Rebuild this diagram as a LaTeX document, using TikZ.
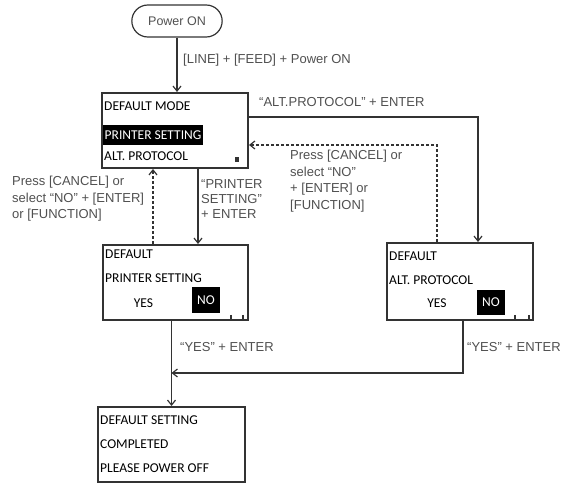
\documentclass[tikz,border=0pt]{standalone}
\usepackage{fontspec}
\setmainfont{Liberation Sans}
\newfontfamily\boxfont{Carlito}
\usetikzlibrary{arrows.meta,shapes.misc}
\definecolor{ink}{HTML}{333333}
\definecolor{lbl}{HTML}{505050}
\begin{document}
\begin{tikzpicture}[x=1pt,y=-1pt,
  scr/.style={draw=ink,line width=2pt,inner sep=0pt},
  pill/.style={draw=ink,line width=1.2pt,rounded rectangle,minimum width=97pt,minimum height=32pt,font=\fontsize{12.5}{14}\selectfont,text=lbl},
  line/.style={anchor=west,inner sep=0pt,font=\boxfont\fontsize{13.5}{15}\selectfont,text=black},
  hl/.style={line,fill=black,text=white,inner xsep=1.5pt,minimum height=20pt},
  nobox/.style={fill=black,text=white,inner sep=0pt,font=\boxfont\fontsize{13.5}{15}\selectfont},
  arr/.style={draw=ink,line width=1.3pt,-{Straight Barb[length=5pt,width=8pt,line width=1.2pt]}},
  darr/.style={arr,dash pattern=on 3pt off 2pt},
  lab/.style={anchor=west,inner sep=0pt,text=lbl,align=left,font=\fontsize{13}{16.5}\selectfont},
  tick/.style={draw=ink,line width=1.2pt}]
\useasboundingbox (0,0) rectangle (566,484);

% terminal
\node[pill] (pw) at (177,21) {Power ON};

% screens
\node[scr,minimum width=146pt,minimum height=75pt] (main) at (175,130.5) {};
\node[scr,minimum width=145pt,minimum height=75pt] (lb) at (175.5,282.5) {};
\node[scr,minimum width=146pt,minimum height=77pt] (rb) at (460,281.5) {};
\node[scr,minimum width=147pt,minimum height=75pt] (fb) at (171.5,444.5) {};

% main screen text
\node[line] (m1) at (104,106) {DEFAULT MODE};
\node[hl] (m2) at (103,135) {PRINTER SETTING};
\node[line] (m3) at (104,156) {ALT. PROTOCOL};
\fill[ink] (235,157) rectangle (239,162);

% left confirmation screen
\node[line] (l1) at (105,254) {DEFAULT};
\node[line] (l2) at (105,278) {PRINTER SETTING};
\node[line,anchor=center] (l3) at (143.5,303) {YES};
\node[nobox,minimum width=28pt,minimum height=26pt] (l4) at (206,300) {NO};
\draw[tick] (231,315) -- (231,319);
\draw[tick] (243,315) -- (243,319);

% right confirmation screen
\node[line] (r1) at (389,256) {DEFAULT};
\node[line] (r2) at (389,280) {ALT. PROTOCOL};
\node[line,anchor=center] (r3) at (437,303) {YES};
\node[nobox,minimum width=28pt,minimum height=25pt] (r4) at (491,302.5) {NO};
\draw[tick] (515,315) -- (515,319);
\draw[tick] (529,315) -- (529,319);

% final screen
\node[line] (f1) at (100,420) {DEFAULT SETTING};
\node[line] (f2) at (100,444) {COMPLETED};
\node[line] (f3) at (100,468) {PLEASE POWER OFF};

% connectors
\draw[arr] (pw.south) -- (pw.south |- main.north);
\draw[arr] ([yshift=13.5pt]main.east) -| ([xshift=18pt]rb.north);
\draw[darr] ([xshift=-23pt]rb.north) |- ([yshift=-14.5pt]main.east);
\draw[darr] ([xshift=-22.5pt]lb.north) -- ([xshift=-22.5pt]lb.north |- main.south);
\draw[arr] ([xshift=23pt]main.south) -- ([xshift=23pt]main.south |- lb.north);
\draw[arr] (fb.north |- lb.south) -- (fb.north);
\coordinate (j) at (171.5,373);
\draw[arr] ([xshift=3pt]rb.south) |- (j);

% labels
\node[lab] (t1) at (183,60) {[LINE] + [FEED] + Power ON};
\node[lab] (t2) at (259,102) {``ALT.PROTOCOL'' + ENTER};
\node[lab,anchor=north west] (t3) at (290,150) {Press [CANCEL] or\\select ``NO''\\+ [ENTER] or\\{}[FUNCTION]};
\node[lab,anchor=north west] (t4) at (12,176) {Press [CANCEL] or\\select ``NO'' + [ENTER]\\or [FUNCTION]};
\node[lab,anchor=north west,font=\fontsize{13}{15}\selectfont] (t5) at (201,179) {``PRINTER\\SETTING''\\+ ENTER};
\node[lab] (t6) at (180,347) {``YES'' + ENTER};
\node[lab] (t7) at (467,347) {``YES'' + ENTER};
\end{tikzpicture}
\end{document}
